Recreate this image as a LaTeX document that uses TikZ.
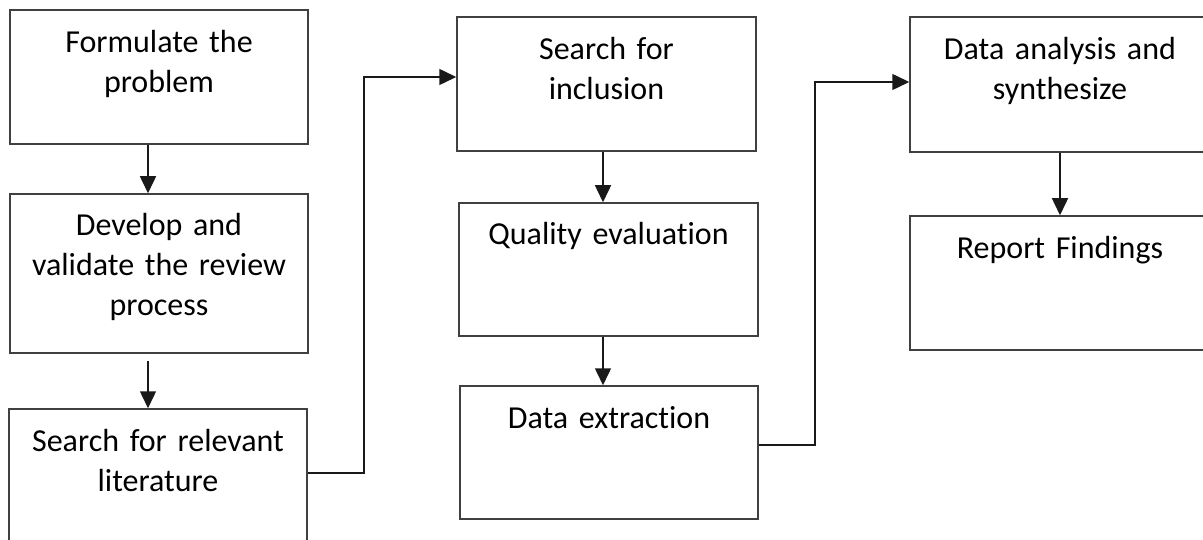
\documentclass[tikz,border=0pt]{standalone}
\usepackage{fontspec}
\setmainfont{Carlito}[Ligatures={NoCommon,NoContextual}]
\usetikzlibrary{arrows.meta,calc}
\definecolor{linegrey}{HTML}{404040}
\tikzset{
  stepbox/.style={draw=linegrey, line width=1.5pt, inner sep=0pt, fill=white},
  boxtext/.style={anchor=base, text width=292pt, align=center, inner sep=0pt,
                  font=\fontsize{32}{40}\selectfont},
  flow/.style={draw=linegrey, line width=1.5pt,
               -{Triangle[length=17pt,width=16pt]}, color=black!90},
}
\begin{document}
\begin{tikzpicture}[x=1pt,y=-1pt]
\useasboundingbox (0,0) rectangle (1203,540);
\clip (0,0) rectangle (1203,540);

% left column
\node[stepbox, minimum width=298pt, minimum height=134pt] (A) at (159,77) {};
\node[boxtext] (tA) at ([yshift=-43pt]A.north) {Formulate the\\problem};
\node[stepbox, minimum width=298pt, minimum height=159pt] (B) at (159,273.5) {};
\node[boxtext] (tB) at ([yshift=-42pt]B.north) {Develop and\\validate the review\\process};
\node[stepbox, minimum width=298pt, minimum height=134pt] (C) at (158,476) {};
\node[boxtext] (tC) at ([yshift=-43pt]C.north) {Search for relevant\\literature};

% middle column
\node[stepbox, minimum width=299pt, minimum height=134pt] (D) at (606.5,84) {};
\node[boxtext] (tD) at ([yshift=-43pt]D.north) {Search for\\inclusion};
\node[stepbox, minimum width=299pt, minimum height=133pt] (E) at (608.5,269.5) {};
\node[boxtext] (tE) at ([yshift=-42pt]E.north) {Quality evaluation};
\node[stepbox, minimum width=298pt, minimum height=133pt] (F) at (609,452.5) {};
\node[boxtext] (tF) at ([yshift=-43pt]F.north) {Data extraction};

% right column
\node[stepbox, minimum width=300pt, minimum height=135pt] (G) at (1060,84.5) {};
\node[boxtext] (tG) at ([yshift=-43pt]G.north) {Data analysis and\\synthesize};
\node[stepbox, minimum width=300pt, minimum height=134pt] (H) at (1060,283) {};
\node[boxtext] (tH) at ([yshift=-43pt]H.north) {Report Findings};

% vertical steps
\draw[flow] ([xshift=-11pt]A.south) -- ([xshift=-11pt]A.south |- B.north);
\draw[flow] ([xshift=-11pt,yshift=-7pt]B.south) -- ([xshift=-11pt]B.south |- C.north);
\draw[flow] ([xshift=-3.5pt]D.south) -- ([xshift=-3.5pt]D.south |- E.north);
\draw[flow] ([xshift=-5.5pt]E.south) -- ([xshift=-5.5pt]E.south |- F.north);
\draw[flow] (G.south) -- (H.north);

% column changes
\coordinate (cd) at (364,77);
\draw[flow] ([yshift=3pt]C.east) -| (cd) -- (cd -| D.west);
\coordinate (fg) at (815,82);
\draw[flow] ([yshift=7.5pt]F.east) -| (fg) -- (fg -| G.west);
\end{tikzpicture}
\end{document}
